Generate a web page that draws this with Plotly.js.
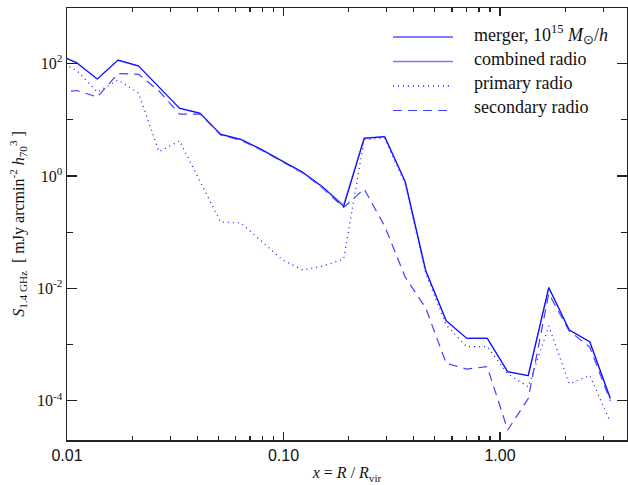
<!DOCTYPE html>
<html>
<head>
<meta charset="utf-8">
<script src="https://cdn.plot.ly/plotly-3.0.1.min.js"></script>
<style>html,body{margin:0;padding:0;background:#fff;}#chart{width:628px;height:485px;}</style>
</head>
<body>
<div id="chart"></div>
<script>
// x = R / R_vir (radial bins)
const radius = [0.0089, 0.0111, 0.0138, 0.0172, 0.0214, 0.0266, 0.0331, 0.0412, 0.0512, 0.0637,
  0.0792, 0.0985, 0.1226, 0.1524, 0.1896, 0.2358, 0.2933, 0.3648, 0.4537, 0.5643,
  0.7018, 0.8729, 1.0856, 1.350, 1.680, 2.089, 2.598, 3.231];
// S_1.4GHz [mJy arcmin^-2 h70^3]
const merger = [149, 103, 53.0, 115, 90.3, 37.4, 16.0, 13.0, 5.50, 4.45,
  2.95, 1.84, 1.17, 0.634, 0.283, 4.67, 4.99, 0.789, 0.0207, 0.00265,
  0.00129, 0.00129, 0.000328, 0.000279, 0.0103, 0.00181, 0.00112, 0.000110];
const combined = [149, 103, 53.0, 115, 90.3, 37.4, 16.0, 13.0, 5.50, 4.45,
  2.95, 1.84, 1.15, 0.62, 0.30, 4.67, 4.99, 0.789, 0.0207, 0.00265,
  0.00129, 0.00129, 0.000328, 0.000279, 0.0103, 0.00181, 0.00112, 0.000110];
const primary = [115, 75.0, 31.1, 50.9, 29.9, 2.70, 4.23, 0.778, 0.151, 0.145,
  0.0695, 0.0325, 0.0212, 0.0249, 0.0332, 4.39, 4.72, 0.718, 0.0185, 0.00222,
  0.000914, 0.000914, 0.000302, 0.000177, 0.00213, 0.000200, 0.000281, 0.0000423];
const secondary = [29.9, 33.1, 25.3, 66.4, 64.2, 32.4, 12.6, 12.6, 5.35, 4.30,
  2.86, 1.78, 1.13, 0.597, 0.274, 0.585, 0.128, 0.0159, 0.00447, 0.000462,
  0.000366, 0.000403, 0.0000301, 0.000109, 0.00807, 0.00174, 0.000903, 0.0000988];

const xMajor = [0.01, 0.1, 1];
const xMajorText = ['0.01', '0.10', '1.00'];
const xMinor = [0.02,0.03,0.04,0.05,0.06,0.07,0.08,0.09,0.2,0.3,0.4,0.5,0.6,0.7,0.8,0.9,2,3];
const yMajor = [1e-4, 1e-2, 1, 100];
const yMajorText = ['10<sup>-4</sup>', '10<sup>-2</sup>', '10<sup>0</sup>', '10<sup>2</sup>'];
const yMinor = [1e-3, 1e-1, 10];

const legendLabels = ['merger, 10<sup>15</sup> <i>M</i><sub>⊙</sub>/<i>h</i>', 'combined radio', 'primary radio', 'secondary radio'];

const styles = [
  {color: '#0000ff', width: 1, dash: 'solid'},
  {color: '#7a7aff', width: 1.6, dash: 'solid'},
  {color: '#1f1fff', width: 1.3, dash: '1px,4px'},
  {color: '#4040ff', width: 1.2, dash: '9px,6px'}
];
const series = [merger, combined, primary, secondary];
const order = [1, 0, 2, 3];

const traces = [2, 3, 1, 0].map(k => ({
  type: 'scatter', mode: 'lines', x: radius, y: series[k], name: legendLabels[k],
  line: {color: styles[k].color, width: styles[k].width, dash: styles[k].dash},
  showlegend: false, hoverinfo: 'x+y'
}));

// manual legend (sample lines + labels)
const L = {l: 67, r: 1, t: 8, b: 45, W: 628, H: 485};
const pw = L.W - L.l - L.r, ph = L.H - L.t - L.b;
const px = v => (v - L.l) / pw;
const py = v => 1 - (v - L.t) / ph;
const lineY = [37, 61.5, 86, 110.5];
const textY = [34.5, 58.5, 82.5, 106.5];
const shapes = [], annotations = [];
legendLabels.forEach((lab, k) => {
  shapes.push({type: 'line', xref: 'paper', yref: 'paper', x0: px(393), x1: px(453), y0: py(lineY[k]), y1: py(lineY[k]),
    line: {color: styles[k].color, width: styles[k].width, dash: styles[k].dash}});
  annotations.push({xref: 'paper', yref: 'paper', x: px(472), y: py(textY[k]), xanchor: 'left', yanchor: 'middle',
    text: lab, showarrow: false, font: {family: 'Liberation Serif, Times New Roman, serif', size: 18, color: '#111'}});
});

const axisCommon = {
  showline: true, linecolor: '#222', linewidth: 1.5, mirror: 'allticks',
  ticks: 'inside', tickcolor: '#222', tickwidth: 1.3,
  showgrid: false, zeroline: false, tickmode: 'array'
};

const layout = {
  width: L.W, height: L.H,
  margin: {l: L.l, r: L.r, t: L.t, b: L.b},
  paper_bgcolor: '#fff', plot_bgcolor: '#fff',
  showlegend: false,
  xaxis: Object.assign({}, axisCommon, {
    type: 'log', range: [-2, 0.5866],
    tickvals: xMajor, ticktext: xMajorText, ticklen: 8,
    tickfont: {family: 'Liberation Sans, Arial, sans-serif', size: 16, color: '#111'},
    minor: {tickmode: 'array', tickvals: xMinor, ticks: 'inside', ticklen: 4, tickcolor: '#222', tickwidth: 1.2, showgrid: false},
    title: {text: '<i>x</i> = <i>R</i> / <i>R</i><sub>vir</sub>', standoff: 4,
      font: {family: 'Liberation Serif, Times New Roman, serif', size: 16, color: '#111'}}
  }),
  yaxis: Object.assign({}, axisCommon, {
    type: 'log', range: [-4.699, 2.988],
    tickvals: yMajor, ticktext: yMajorText, ticklen: 10,
    tickfont: {family: 'Liberation Serif, Times New Roman, serif', size: 16, color: '#111'},
    minor: {tickmode: 'array', tickvals: yMinor, ticks: 'inside', ticklen: 6, tickcolor: '#222', tickwidth: 1.2, showgrid: false},
    title: {text: '<i>S</i><sub>1.4 GHz</sub>  [ mJy arcmin<sup>-2</sup> <i>h</i><sub>70</sub><sup>3</sup> ]', standoff: 8,
      font: {family: 'Liberation Serif, Times New Roman, serif', size: 16, color: '#111'}}
  }),
  shapes: shapes,
  annotations: annotations
};

Plotly.newPlot('chart', traces, layout, {displayModeBar: false, staticPlot: true});
</script>
</body>
</html>
